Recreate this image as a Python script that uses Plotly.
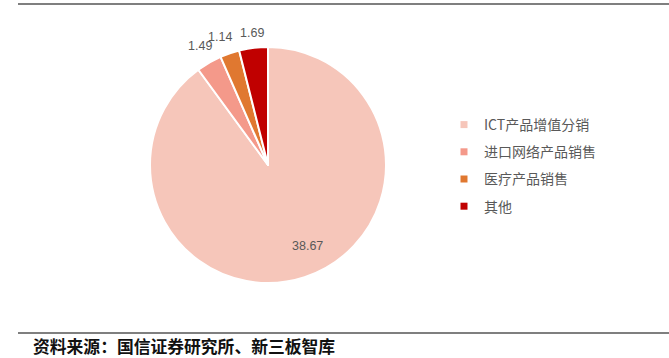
import math
import plotly.graph_objects as go

W, H = 669, 358
labels = ["ICT产品增值分销", "进口网络产品销售", "医疗产品销售", "其他"]
values = [38.67, 1.49, 1.14, 1.69]
colors = ["#F6C6BA", "#F4998A", "#E07830", "#C00000"]
source = "资料来源：国信证券研究所、新三板智库"

cx, cy, r = 268, 165, 118

fig = go.Figure()
fig.add_trace(go.Pie(
    labels=labels, values=values, sort=False, direction="clockwise", rotation=0,
    marker=dict(colors=colors, line=dict(color="white", width=2)),
    textinfo="none",
    domain=dict(x=[(cx - r) / W, (cx + r) / W], y=[1 - (cy + r) / H, 1 - (cy - r) / H]),
    showlegend=False,
    hoverinfo="label+value",
))

# legend entries (one per slice)
for lab, col in zip(labels, colors):
    fig.add_trace(go.Scatter(x=[None], y=[None], mode="markers", name=lab, legendgroup=lab,
                             marker=dict(symbol="square", size=7, color=col), hoverinfo="skip"))

# value labels placed from the slice angles computed from the data
total = sum(values)
annotations = []
cum = 0.0
for i, v in enumerate(values):
    a0 = cum / total * 360
    cum += v
    a1 = cum / total * 360
    mid = math.radians((a0 + a1) / 2)
    s, c = math.sin(mid), math.cos(mid)
    txt = f"{v:.2f}"
    if v / total > 0.5:
        ang = mid - math.radians(8)
        dist = 0.76 * r
        px, py = cx + dist * math.sin(ang), cy - dist * math.cos(ang)
    else:
        hw, hh = 12, 6
        dist = r + 8 + abs(s) * hw + abs(c) * hh
        px, py = cx + dist * s, cy - dist * c
        if i == 2:
            px -= 4
    annotations.append(dict(text=txt, x=px / W, y=1 - py / H, xref="paper", yref="paper",
                            xanchor="center", yanchor="middle", showarrow=False,
                            font=dict(size=12.5, color="#595959", family="Liberation Sans")))

annotations.append(dict(text="<b>" + source + "</b>", xref="paper", yref="paper", x=31 / W, y=1 - 345.5 / H,
                        xanchor="left", yanchor="middle", showarrow=False,
                        font=dict(size=16.8, color="#111111", family="Noto Sans CJK SC")))

fig.update_layout(
    width=W, height=H, margin=dict(l=0, r=0, t=0, b=0),
    paper_bgcolor="white", plot_bgcolor="white",
    xaxis=dict(visible=False), yaxis=dict(visible=False),
    legend=dict(x=444 / W, y=1 - 109 / H, xanchor="left", yanchor="top",
                font=dict(size=14, color="#595959", family="Noto Sans CJK SC"),
                tracegroupgap=6, itemwidth=30, bgcolor="rgba(0,0,0,0)"),
    shapes=[
        dict(type="line", xref="paper", yref="paper", x0=18 / W, x1=1, y0=1 - 4 / H, y1=1 - 4 / H,
             line=dict(color="#555555", width=1.5)),
        dict(type="line", xref="paper", yref="paper", x0=18 / W, x1=1, y0=1 - 333 / H, y1=1 - 333 / H,
             line=dict(color="#555555", width=1.5)),
    ],
    annotations=annotations,
)

fig.write_html("out.html", config={"displayModeBar": False},
               post_script="document.body.style.margin='0px';")
